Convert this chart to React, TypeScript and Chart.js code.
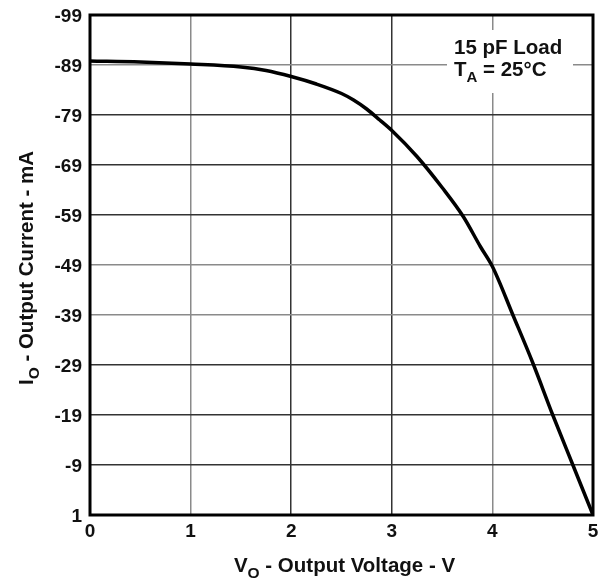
import React, { useEffect, useRef } from 'react';
import { Chart, registerables } from 'chart.js';

Chart.register(...registerables);

// ---- data ----
const voltage = [0, 0.5, 1, 1.5, 1.75, 2, 2.25, 2.5, 2.62, 2.75, 2.88, 3, 3.25, 3.5, 3.71, 3.88, 4, 4.21, 4.4, 4.6, 4.8, 5];
const current = [-89.8, -89.6, -89.2, -88.6, -87.9, -86.7, -85.2, -83.3, -82, -80.2, -78, -75.9, -70.7, -64.5, -58.7, -52.7, -48.7, -38.7, -29.5, -19, -9, 1];
const xTickValues = [0, 1, 2, 3, 4, 5];
const yTickValues = [-99, -89, -79, -69, -59, -49, -39, -29, -19, -9, 1];
const xTitleParts = [
  { t: 'V', sub: false },
  { t: 'O', sub: true },
  { t: ' - Output Voltage - V', sub: false },
];
const yTitleParts = [
  { t: 'I', sub: false },
  { t: 'O', sub: true },
  { t: ' - Output Current - mA', sub: false },
];
const noteLine1 = [{ t: '15 pF Load', sub: false }];
const noteLine2 = [
  { t: 'T', sub: false },
  { t: 'A', sub: true },
  { t: ' = 25°C', sub: false },
];
const lightGridX = [1, 4];
const lightGridY = [-89, -49, -39];

const FAMILY = "'Liberation Sans', Arial, sans-serif";

type Part = { t: string; sub: boolean };

function measureParts(ctx: CanvasRenderingContext2D, parts: Part[], size: number, subSize: number) {
  let w = 0;
  for (const p of parts) {
    ctx.font = `bold ${p.sub ? subSize : size}px ${FAMILY}`;
    w += ctx.measureText(p.t).width;
  }
  return w;
}

function drawParts(ctx: CanvasRenderingContext2D, parts: Part[], x: number, y: number, size: number, subSize: number, subDrop: number) {
  let cx = x;
  ctx.textAlign = 'left';
  ctx.textBaseline = 'alphabetic';
  for (const p of parts) {
    ctx.font = `bold ${p.sub ? subSize : size}px ${FAMILY}`;
    ctx.fillText(p.t, cx, p.sub ? y + subDrop : y);
    cx += ctx.measureText(p.t).width;
  }
}

const decorPlugin = {
  id: 'decor',
  afterDraw(chart: any) {
    const { ctx, chartArea } = chart;
    const { left, right, top, bottom } = chartArea;
    ctx.save();
    // frame
    ctx.strokeStyle = '#000';
    ctx.lineWidth = 3;
    ctx.strokeRect(left, top, right - left, bottom - top);

    // note box
    const bx = right - 146;
    const by = top + 15;
    ctx.fillStyle = '#fff';
    ctx.fillRect(bx, by, 126, 63);
    ctx.fillStyle = '#111';
    drawParts(ctx, noteLine1, bx + 7, by + 24, 20.5, 15, 6);
    drawParts(ctx, noteLine2, bx + 7, by + 46, 20.5, 15, 6);

    // x title
    const xw = measureParts(ctx, xTitleParts, 20.5, 15.5);
    const xc = (left + right) / 2;
    drawParts(ctx, xTitleParts, xc - xw / 2 + 3, chart.height - 11, 20.5, 15.5, 6);

    // y title
    const yw = measureParts(ctx, yTitleParts, 20.5, 15.5);
    const yc = (top + bottom) / 2;
    ctx.translate(33, yc + 3);
    ctx.rotate(-Math.PI / 2);
    drawParts(ctx, yTitleParts, -yw / 2, 0, 20.5, 15.5, 6);
    ctx.restore();
  },
};

export default function App() {
  const ref = useRef<HTMLCanvasElement | null>(null);
  useEffect(() => {
    if (!ref.current) return;
    const chart = new Chart(ref.current, {
      type: 'line',
      data: {
        datasets: [
          {
            data: voltage.map((v, i) => ({ x: v, y: current[i] })),
            borderColor: '#000',
            borderWidth: 3.5,
            pointRadius: 0,
            cubicInterpolationMode: 'monotone',
            fill: false,
          },
        ],
      },
      options: {
        responsive: false,
        animation: false,
        layout: { padding: { top: 15, right: 12, left: 0, bottom: 0 } },
        plugins: {
          legend: { display: false },
          tooltip: { enabled: false },
          title: { display: false },
        },
        scales: {
          x: {
            type: 'linear',
            min: 0,
            max: 5,
            afterBuildTicks: (s: any) => {
              s.ticks = xTickValues.map((v) => ({ value: v }));
            },
            afterFit: (s: any) => {
              s.height = 68;
              s.paddingLeft = 0;
              s.paddingRight = 0;
            },
            ticks: {
              color: '#111',
              font: { family: FAMILY, size: 19, weight: 'bold' },
              padding: 5,
              maxRotation: 0,
            },
            grid: {
              drawTicks: false,
              lineWidth: 1.5,
              color: (c: any) => (c.tick && lightGridX.includes(c.tick.value) ? '#8a8a8a' : '#333'),
            },
            border: { display: false },
          },
          y: {
            type: 'linear',
            min: -99,
            max: 1,
            reverse: true,
            afterBuildTicks: (s: any) => {
              s.ticks = yTickValues.map((v) => ({ value: v }));
            },
            afterFit: (s: any) => {
              s.width = 90;
              s.paddingTop = 0;
              s.paddingBottom = 0;
            },
            ticks: {
              color: '#111',
              font: { family: FAMILY, size: 19, weight: 'bold' },
              padding: 8,
              labelOffset: 2,
            },
            grid: {
              drawTicks: false,
              lineWidth: 1.5,
              color: (c: any) => (c.tick && lightGridY.includes(c.tick.value) ? '#8a8a8a' : '#333'),
            },
            border: { display: false },
          },
        },
      },
      plugins: [decorPlugin],
    } as any);
    return () => chart.destroy();
  }, []);
  return (
    <div style={{ position: 'absolute', left: 0, top: 0, width: 605, height: 583, background: '#fff' }}>
      <canvas ref={ref} width={605} height={583} />
    </div>
  );
}
